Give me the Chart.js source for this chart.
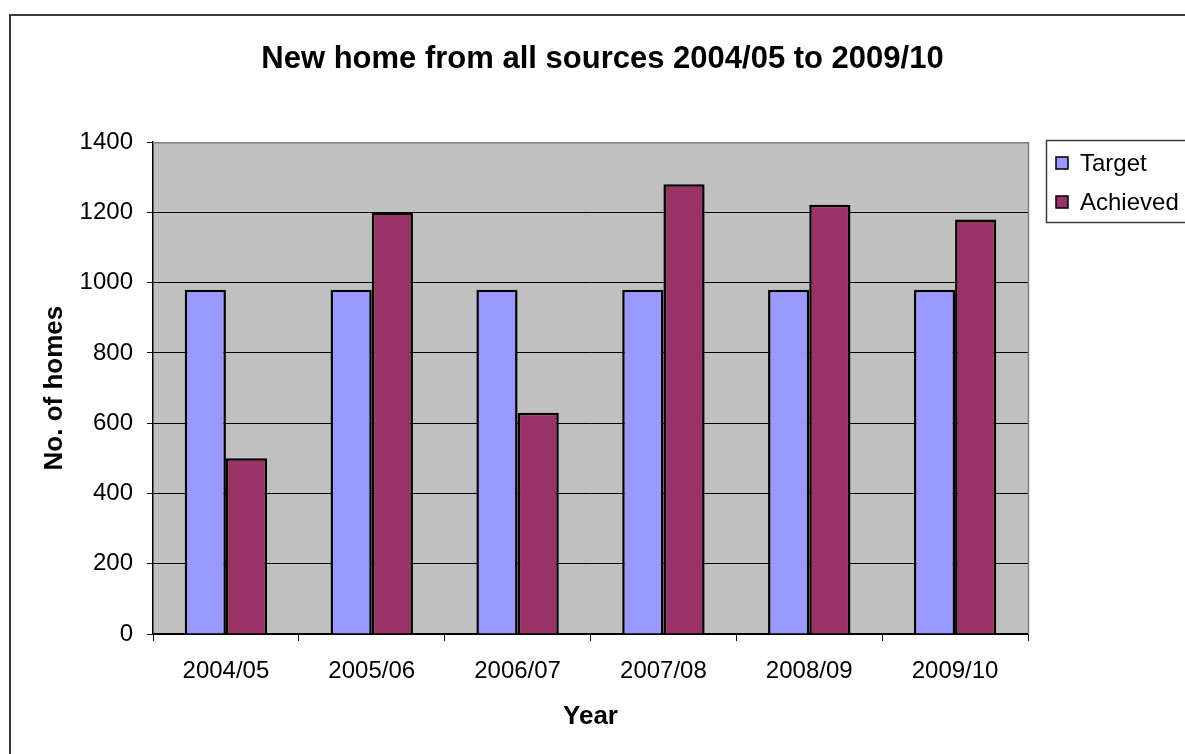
<!DOCTYPE html>
<html>
<head>
<meta charset="utf-8">
<script src="https://cdn.jsdelivr.net/npm/chart.js@4/dist/chart.umd.min.js"></script>
<style>
  html, body { margin: 0; padding: 0; background: #fff; }
  #wrap { width: 1185px; height: 754px; }
</style>
</head>
<body>
<div id="wrap"><canvas id="c" width="1185" height="754"></canvas></div>
<script>
// Financial years on the category axis
const categories = ['2004/05', '2005/06', '2006/07', '2007/08', '2008/09', '2009/10'];
// Homes targeted per year
const targetValues = [980, 980, 980, 980, 980, 980];
// Homes actually delivered per year
const achievedValues = [500, 1200, 630, 1280, 1222, 1180];
// Value axis range and step
const yMin = 0;
const yMax = 1400;
const yStep = 200;

const titleText = 'New home from all sources 2004/05 to 2009/10';
const xTitle = 'Year';
const yTitle = 'No. of homes';

const FONT = '"Liberation Sans", Arial, sans-serif';

// Outer frame, grey plot area, plot border and the boxed legend
const chartDecor = {
  id: 'chartDecor',
  beforeDraw(chart) {
    const { ctx, chartArea: a } = chart;
    ctx.save();
    ctx.fillStyle = '#ffffff';
    ctx.fillRect(0, 0, chart.width, chart.height);
    ctx.strokeStyle = '#3c3c3c';
    ctx.lineWidth = 2;
    ctx.strokeRect(10, 15, chart.width + 40, chart.height + 40);
    ctx.fillStyle = '#c0c0c0';
    ctx.fillRect(a.left, a.top, a.right - a.left, a.bottom - a.top);
    ctx.restore();
  },
  afterDraw(chart) {
    const { ctx, chartArea: a } = chart;
    ctx.save();
    // plot-area border on top and right
    ctx.strokeStyle = '#808080';
    ctx.lineWidth = 1.5;
    ctx.beginPath();
    ctx.moveTo(a.left, a.top + 0.5);
    ctx.lineTo(a.right + 0.5, a.top + 0.5);
    ctx.lineTo(a.right + 0.5, a.bottom);
    ctx.stroke();

    // legend
    const lx = 1046.5, ly = 140.5, lh = 82;
    ctx.strokeStyle = '#3c3c3c';
    ctx.lineWidth = 1.5;
    ctx.strokeRect(lx, ly, 200, lh);
    ctx.font = '24px ' + FONT;
    ctx.textBaseline = 'middle';
    ctx.textAlign = 'left';
    chart.data.datasets.forEach((ds, i) => {
      const cy = 163 + i * 39;
      ctx.fillStyle = ds.backgroundColor;
      ctx.fillRect(1056, cy - 6, 12, 12);
      ctx.strokeStyle = '#000';
      ctx.lineWidth = 1.5;
      ctx.strokeRect(1056, cy - 6, 12, 12);
      ctx.fillStyle = '#000';
      ctx.fillText(ds.label, 1080, cy + 1);
    });
    ctx.restore();
  }
};

new Chart(document.getElementById('c'), {
  type: 'bar',
  data: {
    labels: categories,
    datasets: [
      {
        label: 'Target',
        data: targetValues,
        backgroundColor: '#9999ff',
        borderColor: '#000000',
        borderWidth: 2.5,
        categoryPercentage: 0.565,
        barPercentage: 1.0
      },
      {
        label: 'Achieved',
        data: achievedValues,
        backgroundColor: '#993366',
        borderColor: '#000000',
        borderWidth: 2.5,
        categoryPercentage: 0.565,
        barPercentage: 1.0
      }
    ]
  },
  options: {
    responsive: false,
    animation: false,
    devicePixelRatio: 1,
    layout: { padding: { left: 20, right: 0, top: 0, bottom: 10 } },
    plugins: {
      legend: { display: false },
      tooltip: { enabled: false },
      title: {
        display: true,
        text: titleText,
        color: '#000',
        font: { family: FONT, size: 31, weight: 'bold' },
        padding: { top: 41, bottom: 64 }
      }
    },
    scales: {
      x: {
        offset: true,
        grid: {
          display: true,
          offset: true,
          drawOnChartArea: false,
          drawTicks: true,
          tickLength: 7,
          color: '#000',
          lineWidth: 1
        },
        border: { display: true, color: '#000', width: 1.5 },
        ticks: {
          color: '#000',
          font: { family: FONT, size: 24 },
          padding: 16,
          maxRotation: 0
        },
        title: {
          display: true,
          text: xTitle,
          color: '#000',
          font: { family: FONT, size: 26, weight: 'bold' },
          padding: { top: 0, bottom: 12 }
        },
        afterFit(scale) { scale.height = 110; }
      },
      y: {
        min: yMin,
        max: yMax,
        grid: {
          color: (c) => (c.tick && c.tick.value === yMax ? 'rgba(0,0,0,0)' : '#000'),
          tickColor: '#000',
          lineWidth: 1,
          drawTicks: true,
          tickLength: 6
        },
        border: { display: true, color: '#000', width: 1.5 },
        ticks: {
          stepSize: yStep,
          color: '#000',
          font: { family: FONT, size: 24 },
          padding: 14,
          callback: (v) => String(v)
        },
        title: {
          display: true,
          text: yTitle,
          color: '#000',
          font: { family: FONT, size: 26, weight: 'bold' },
          padding: { top: 19, bottom: 0 }
        },
        afterFit(scale) { scale.width = 133; }
      },
      spacer: {
        type: 'linear',
        position: 'right',
        display: true,
        grid: { display: false },
        border: { display: false },
        ticks: { display: false },
        afterFit(scale) { scale.width = 157; }
      }
    }
  },
  plugins: [chartDecor]
});
</script>
</body>
</html>
